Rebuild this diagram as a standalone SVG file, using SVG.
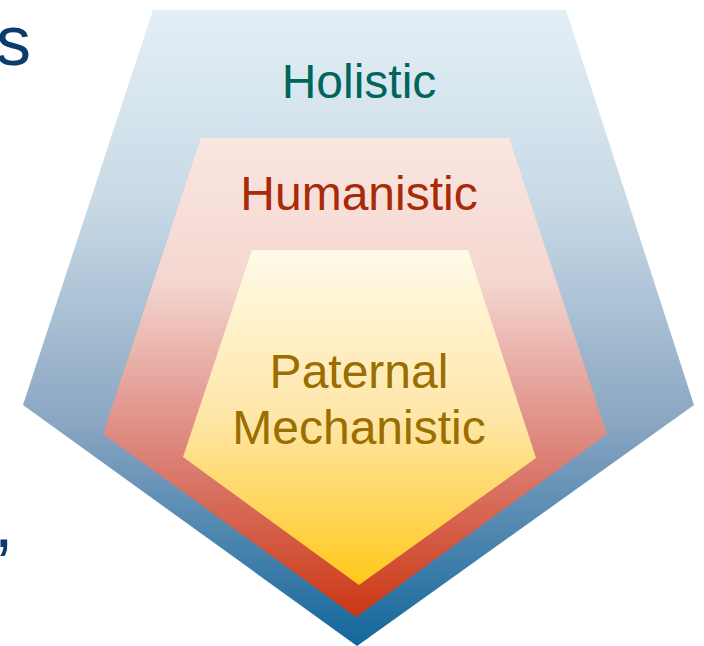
<svg xmlns="http://www.w3.org/2000/svg" width="704" height="646" viewBox="0 0 704 646">
<defs>
<linearGradient id="gOuter" x1="0" y1="10" x2="0" y2="646" gradientUnits="userSpaceOnUse">
<stop offset="0" stop-color="#e3eff6"/>
<stop offset="0.3" stop-color="#c9dae6"/>
<stop offset="0.65" stop-color="#8aa6c2"/>
<stop offset="1" stop-color="#12669c"/>
</linearGradient>
<linearGradient id="gMid" x1="0" y1="138" x2="0" y2="617" gradientUnits="userSpaceOnUse">
<stop offset="0" stop-color="#fae7e0"/>
<stop offset="0.3" stop-color="#f4d6d0"/>
<stop offset="0.65" stop-color="#dc847a"/>
<stop offset="1" stop-color="#cc3612"/>
</linearGradient>
<linearGradient id="gIn" x1="0" y1="250" x2="0" y2="585" gradientUnits="userSpaceOnUse">
<stop offset="0" stop-color="#fffae8"/>
<stop offset="0.5" stop-color="#ffe6a8"/>
<stop offset="1" stop-color="#ffc81a"/>
</linearGradient>
</defs>
<style>
text{font-family:"Liberation Sans",Arial,sans-serif;font-size:48px;text-anchor:middle}
.edge{font-size:70px;fill:#0b3a6c;text-anchor:start}
</style>
<text class="edge" x="-4" y="65">s</text>
<text class="edge" x="-6" y="547">,</text>
<g id="holistic">
<polygon points="153,10 566,10 694,405 357,646 23,405" fill="url(#gOuter)"/>
<text x="359" y="98" fill="#00665c">Holistic</text>
</g>
<g id="humanistic">
<polygon points="201,138 509,138 607,434 356,617 103,434" fill="url(#gMid)"/>
<text x="359" y="210" fill="#a82a08">Humanistic</text>
</g>
<g id="paternal">
<polygon points="252,250 468,250 536,458 359,585 183,457" fill="url(#gIn)"/>
<text x="359" y="388" fill="#9a6e00">Paternal</text>
<text x="359" y="444" fill="#9a6e00">Mechanistic</text>
</g>
<g id="connectors"/>
</svg>
